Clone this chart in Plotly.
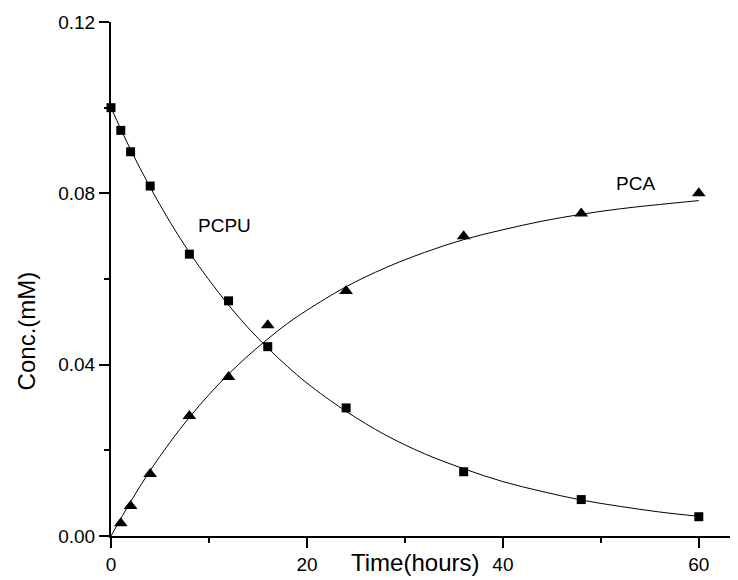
import plotly.graph_objects as go

# Measured points
t_pts = [0, 1, 2, 4, 8, 12, 16, 24, 36, 48, 60]
pcpu_pts = [0.1000, 0.0947, 0.0897, 0.0817, 0.0658, 0.0549, 0.0442, 0.0299, 0.0150, 0.0085, 0.0045]
t_pca = [1, 2, 4, 8, 12, 16, 24, 36, 48, 60]
pca_pts = [0.0030, 0.0070, 0.0145, 0.0280, 0.0371, 0.0492, 0.0572, 0.0700, 0.0753, 0.0800]

# Fitted curves
t_fit = [0, 2, 4, 6, 8, 10, 12, 14, 16, 18, 20, 24, 28, 32, 36, 40, 44, 48, 52, 56, 60]
pcpu_fit = [0.1000, 0.0902, 0.0814, 0.0734, 0.0662, 0.0598, 0.0539, 0.0486, 0.0439, 0.0396,
            0.0357, 0.0291, 0.0236, 0.0192, 0.0157, 0.0127, 0.0104, 0.0084, 0.0069, 0.0056, 0.0046]
pca_fit = [0.0000, 0.0080, 0.0153, 0.0218, 0.0277, 0.0330, 0.0378, 0.0421, 0.0460, 0.0496,
           0.0527, 0.0582, 0.0626, 0.0662, 0.0692, 0.0715, 0.0735, 0.0751, 0.0764, 0.0774, 0.0783]

FONT = "Arial, Liberation Sans, sans-serif"

fig = go.Figure()
fig.add_trace(go.Scatter(x=t_fit, y=pcpu_fit, mode="lines", line=dict(color="black", width=1, shape="spline"),
                         showlegend=False, hoverinfo="skip"))
fig.add_trace(go.Scatter(x=t_fit, y=pca_fit, mode="lines", line=dict(color="black", width=1, shape="spline"),
                         showlegend=False, hoverinfo="skip"))
fig.add_trace(go.Scatter(x=t_pts, y=pcpu_pts, mode="markers", name="PCPU",
                         marker=dict(symbol="square", size=9, color="black"), cliponaxis=False, showlegend=False))
fig.add_trace(go.Scatter(x=t_pca, y=pca_pts, mode="markers", name="PCA",
                         marker=dict(symbol="triangle-up", size=12, color="black"), cliponaxis=False, showlegend=False))

axis_common = dict(showline=True, linecolor="black", linewidth=2, ticks="outside", ticklen=10,
                   tickwidth=2, tickcolor="black", showgrid=False, zeroline=False,
                   tickfont=dict(family=FONT, size=19, color="black"))

fig.update_xaxes(range=[0, 64], tick0=0, dtick=20,
                 minor=dict(dtick=10, ticks="outside", ticklen=5, tickwidth=2, tickcolor="black"),
                 **axis_common)
fig.update_yaxes(range=[0, 0.12], tick0=0, dtick=0.04, tickformat=".2f",
                 minor=dict(dtick=0.02, ticks="outside", ticklen=5, tickwidth=2, tickcolor="black"),
                 **axis_common)

fig.add_annotation(x=31.0, y=-0.052, xref="x", yref="paper", text="Time(hours)", showarrow=False,
                   xanchor="center", yanchor="middle",
                   font=dict(family=FONT, size=24, color="black"))
fig.add_annotation(x=-0.1356, y=0.40, xref="paper", yref="paper", text="Conc.(mM)", showarrow=False,
                   xanchor="center", yanchor="middle", textangle=-90,
                   font=dict(family=FONT, size=24, color="black"))
fig.add_annotation(x=11.6, y=0.0724, xref="x", yref="y", text="PCPU", showarrow=False,
                   xanchor="center", yanchor="middle",
                   font=dict(family=FONT, size=19, color="black"))
fig.add_annotation(x=53.5, y=0.0824, xref="x", yref="y", text="PCA", showarrow=False,
                   xanchor="center", yanchor="middle",
                   font=dict(family=FONT, size=19, color="black"))

fig.update_layout(width=730, height=572, margin=dict(l=103, r=0, t=14, b=44),
                  paper_bgcolor="white", plot_bgcolor="white", showlegend=False)

fig.write_html("out.html")
